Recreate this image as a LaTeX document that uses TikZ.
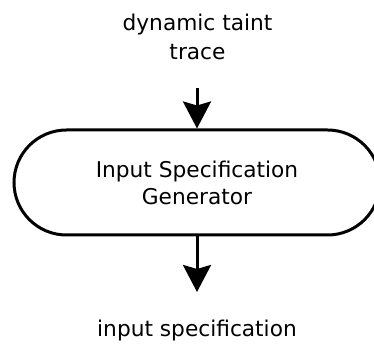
\documentclass[tikz,border=0pt]{standalone}
\usepackage{fontspec}
\setmainfont{DejaVu Sans}
\usetikzlibrary{arrows.meta,shapes.misc}
\tikzset{
  lbl/.style={align=center,inner sep=0pt,font=\fontsize{21.7}{29}\selectfont},
  proc/.style={rounded rectangle,draw,line width=3pt,minimum width=366pt,minimum height=105pt,align=center,inner sep=0pt,font=\fontsize{21.7}{27}\selectfont},
  flow/.style={line width=3pt,-{Stealth[length=27pt,width=28pt,inset=4pt]}}
}
\begin{document}
\begin{tikzpicture}[x=1pt,y=-1pt]
\useasboundingbox (0,0) rectangle (374,344);
\node[lbl] (src) at (197.5,37) {dynamic taint\\trace};
\node[proc] (gen) at (197,182.5) {Input Specification\\Generator};
\node[lbl,anchor=base] (dst) at (197,336.7) {input specification};
\coordinate (in) at (197,88);
\coordinate (out) at (197,292);
\draw[flow] (in) -- (gen.north);
\draw[flow] (gen.south) -- (out);
\end{tikzpicture}
\end{document}
